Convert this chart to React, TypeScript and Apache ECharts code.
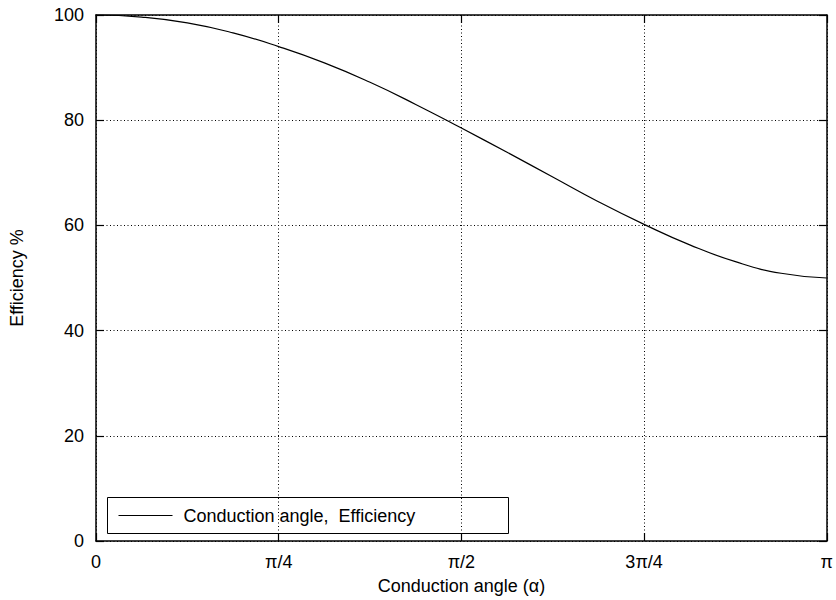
import React, { useEffect, useRef } from "react";
import * as echarts from "echarts";

// Half conduction angle, in multiples of π
const anglePi = [
  0, 0.0625, 0.125, 0.1875, 0.25, 0.3125, 0.375, 0.4375, 0.5,
  0.5625, 0.625, 0.6875, 0.75, 0.8125, 0.875, 0.9375, 1,
];
// Efficiency (%) at each angle
const efficiency = [
  100, 99.6, 98.5, 96.6, 94.0, 90.9, 87.2, 83.0, 78.5,
  73.9, 69.2, 64.5, 60.2, 56.3, 53.1, 50.9, 50.0,
];
const xTickLabels = ["0", "π/4", "π/2", "3π/4", "π"];
const seriesName = "Conduction angle,  Efficiency";

const FONT = "'Liberation Sans', Arial, Helvetica, sans-serif";
const FS = 18;

export default function App() {
  const ref = useRef<HTMLDivElement>(null);

  useEffect(() => {
    if (!ref.current) return;
    const chart = echarts.init(ref.current, undefined, { renderer: "svg" });

    const gridLine = { show: true, lineStyle: { color: "#000", width: 1, type: [1, 2.5] as any } };
    const frame = { show: true, onZero: false, lineStyle: { color: "#000", width: 1.5 } };
    const tick = { show: true, inside: true, length: 8, lineStyle: { color: "#000", width: 1.2 } };

    chart.setOption({
      animation: false,
      backgroundColor: "#fff",
      textStyle: { fontFamily: FONT },
      grid: { left: 96, right: 4, top: 15, bottom: 59, containLabel: false },
      // key box in the lower-left corner of the plot
      graphic: [
        {
          type: "group",
          left: 107,
          top: 497,
          children: [
            {
              type: "rect",
              shape: { x: 0, y: 0, width: 401, height: 36 },
              style: { fill: "#fff", stroke: "#000", lineWidth: 1 },
            },
            {
              type: "line",
              shape: { x1: 11, y1: 18, x2: 65, y2: 18 },
              style: { stroke: "#000", lineWidth: 1.2 },
            },
            {
              type: "text",
              x: 76,
              y: 18,
              style: {
                text: seriesName,
                fill: "#000",
                font: `${FS}px ${FONT}`,
                verticalAlign: "middle",
                align: "left",
              },
            },
          ],
        },
      ],
      xAxis: [
        {
          type: "value",
          position: "bottom",
          min: 0,
          max: 1,
          interval: 0.25,
          axisLine: frame,
          axisTick: tick,
          splitLine: gridLine,
          axisLabel: {
            color: "#000",
            fontSize: FS,
            fontFamily: FONT,
            margin: 12,
            formatter: (v: number) => xTickLabels[Math.round(v * 4)],
          },
          name: "Conduction angle (α)",
          nameLocation: "middle",
          nameGap: 36,
          nameTextStyle: { color: "#000", fontSize: FS, fontFamily: FONT },
        },
        {
          type: "value",
          position: "top",
          min: 0,
          max: 1,
          interval: 0.25,
          axisLine: frame,
          axisTick: tick,
          splitLine: { show: false },
          axisLabel: { show: false },
        },
      ],
      yAxis: [
        {
          type: "value",
          position: "left",
          min: 0,
          max: 100,
          interval: 20,
          axisLine: frame,
          axisTick: tick,
          splitLine: gridLine,
          axisLabel: { color: "#000", fontSize: FS, fontFamily: FONT, margin: 12 },
          name: "Efficiency %",
          nameLocation: "middle",
          nameGap: 70,
          nameTextStyle: { color: "#000", fontSize: FS, fontFamily: FONT },
        },
        {
          type: "value",
          position: "right",
          min: 0,
          max: 100,
          interval: 20,
          axisLine: frame,
          axisTick: tick,
          splitLine: { show: false },
          axisLabel: { show: false },
        },
      ],
      series: [
        {
          name: seriesName,
          type: "line",
          xAxisIndex: 0,
          yAxisIndex: 0,
          data: anglePi.map((a, i) => [a, efficiency[i]]),
          smooth: true,
          symbol: "none",
          lineStyle: { color: "#000", width: 1.2 },
          itemStyle: { color: "#000" },
        },
      ],
    });

    return () => chart.dispose();
  }, []);

  return <div ref={ref} style={{ width: 836, height: 600, position: "absolute", left: 0, top: 0 }} />;
}
